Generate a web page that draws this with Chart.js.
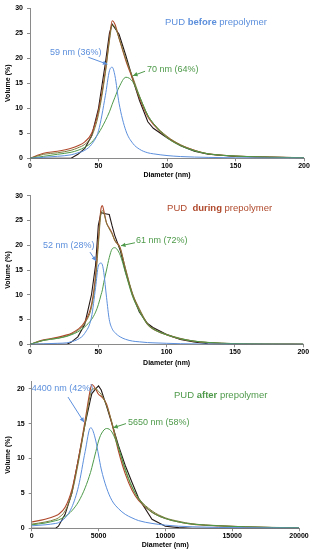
<!DOCTYPE html>
<html><head><meta charset="utf-8">
<script src="https://cdn.jsdelivr.net/npm/chart.js@4"></script>
<style>
html,body{margin:0;padding:0;background:#fff;width:314px;height:550px;overflow:hidden}
canvas{position:absolute;left:0}
</style></head><body>
<canvas id="c1" width="314" height="180" style="top:0px;width:314px;height:180px"></canvas>
<canvas id="c2" width="314" height="188" style="top:180px;width:314px;height:188px"></canvas>
<canvas id="c3" width="314" height="182" style="top:368px;width:314px;height:182px"></canvas>
<script>
// ---------- DATA ----------
// Panel 1: PUD before prepolymer
const x1 = [0,10,20,30,35,40,45,50,55,58,60,62,65,70,75,80,86,90,100,110,120,130,150,175,200];
const p1Black = [0,0,0,0,0.8,2,4.5,10,19,25,26.8,26,24.8,20.5,15.8,11.5,7.3,6,4.1,2.5,1.4,0.8,0.35,0.2,0.1];
const p1Brown = [0,1.0,1.4,2.0,2.5,3.3,5,9.5,17.5,24,27.5,26.8,24,19.5,15.8,12,8.3,6.8,4.2,2.6,1.6,0.9,0.45,0.25,0.12];
const p1Olive = [0,0.8,1.1,1.6,2.1,2.8,4.4,8.8,17,23.5,26.6,26.3,24,19.8,16.2,12.4,8.6,7,4.4,2.7,1.6,0.9,0.45,0.25,0.12];
const p1Blue  = [0,0.2,0.4,0.7,1.1,1.6,2.8,5.5,12.5,17.5,18.2,16.5,11,5.5,3,1.8,1.1,0.9,0.55,0.35,0.25,0.18,0.1,0.05,0.03];
const p1Green = [0,0.4,0.8,1.2,1.6,2.2,3.2,5,7.5,9.3,10.8,12.2,14.2,16.2,15.3,12.3,8.6,7,4.1,2.5,1.5,0.9,0.45,0.22,0.1];
// Panel 2: PUD during prepolymer
const x2 = [0,10,20,27,30,35,40,45,48,50,52,53,54,56,58,60,62,66,70,75,80,86,90,100,110,120,130,150,175,200];
const p2Black = [0,0,0,0,0.4,1.5,4,10,16,24,26.6,26.5,26.4,26.3,26.2,24,22,19,14.5,10,6.5,4.2,3.4,2,1,0.45,0.1,0.03,0.01,0];
const p2Brown = [0,0.9,1.4,1.9,2.2,3,4.5,8,14,21,27.5,28,27,24.5,23.5,22.5,21,19.5,15,10,7,4,3.1,1.9,1.1,0.6,0.35,0.12,0.05,0.02];
const p2Olive = [0,0.8,1.2,1.7,2,2.8,4.2,7.5,13,20,26.5,27,26.5,24.5,23.3,22.3,21,19.3,15.2,10.3,7.2,4.2,3.2,2,1.2,0.65,0.38,0.13,0.05,0.02];
const p2Blue  = [0,0.1,0.2,0.3,0.5,1,2.2,5.5,11.5,15.8,16.4,16,14.5,9.5,5,3.2,2.4,1.5,1,0.65,0.5,0.35,0.3,0.2,0.12,0.08,0.05,0.02,0.01,0];
const p2Green = [0,0.8,1.2,1.6,1.9,2.5,3.5,5,6.5,8,10,11,12.5,15,17.5,19.2,19.5,18,14.3,9.7,6.7,4,3.1,1.9,1.1,0.65,0.38,0.13,0.05,0.02];
// Panel 3: PUD after prepolymer
const x3 = [0,1000,1800,2000,2500,3000,3500,4000,4400,4500,4800,5000,5200,5600,6000,6500,7000,7500,8000,9000,10000,11000,12000,14000,16000,18000,20000];
const p3Black = [0,0,0,0.3,2,5,10,15,18.5,19.3,20,20.4,19.8,17.5,15,11.8,9,6.6,4.3,1.3,0.3,0.1,0,0,0,0,0];
const p3Brown = [0.9,1.3,1.8,2,3,5.5,10,15.5,20,20.6,19.9,19.2,18.9,17.8,15,11,7.8,5.5,4,2.3,1.4,0.9,0.6,0.35,0.2,0.12,0.08];
const p3Olive = [0.6,0.9,1.3,1.5,2.5,5,9.5,15,19.3,19.9,20,19.6,19.2,17.6,15.2,11.5,8.3,5.9,4.3,2.5,1.5,1,0.65,0.38,0.22,0.13,0.08];
const p3Blue  = [0.35,0.5,0.7,0.8,1.5,3,6,11,14.4,14.3,12.5,10.5,8.5,5.8,4,2.8,2,1.5,1.1,0.7,0.45,0.3,0.22,0.12,0.08,0.05,0.03];
const p3Green = [0.5,0.75,1.1,1.2,1.7,2.5,3.8,5.8,8,8.7,11,12.5,13.5,14.3,13.8,11.5,8.5,6,4.2,2.3,1.4,0.9,0.6,0.35,0.2,0.12,0.08];

const yTicks12 = [0,5,10,15,20,25,30];
const yTicks3 = [0,5,10,15,20];
const xTicks12 = [0,50,100,150,200];
const xTicks3 = [0,5000,10000,15000,20000];

// ---------- STYLE ----------
const FONT = "'Liberation Sans', Arial, sans-serif";
const C = {black:'#231815', brown:'#b0492c', olive:'#7d7a3c', blue:'#5c8fdc', green:'#4e9a4a', axis:'#8a8a8a'};

const notesPlugin = {
  id:'notes',
  afterDatasetsDraw(chart, args, opts) {
    const ctx = chart.ctx, xs = chart.scales.x, ys = chart.scales.y;
    ctx.save();
    (opts.items||[]).forEach(it => {
      if (it.arrow) {
        const [ax,ay,bx,by] = it.arrow;
        const x0 = xs.getPixelForValue(ax), y0 = ys.getPixelForValue(ay);
        const x1p = xs.getPixelForValue(bx), y1p = ys.getPixelForValue(by);
        ctx.strokeStyle = it.color; ctx.fillStyle = it.color; ctx.lineWidth = 1;
        ctx.beginPath(); ctx.moveTo(x0,y0); ctx.lineTo(x1p,y1p); ctx.stroke();
        const a = Math.atan2(y1p-y0, x1p-x0), L = 4.5, W = 2.2;
        ctx.beginPath();
        ctx.moveTo(x1p,y1p);
        ctx.lineTo(x1p - L*Math.cos(a) + W*Math.sin(a), y1p - L*Math.sin(a) - W*Math.cos(a));
        ctx.lineTo(x1p - L*Math.cos(a) - W*Math.sin(a), y1p - L*Math.sin(a) + W*Math.cos(a));
        ctx.closePath(); ctx.fill();
      }
      if (it.parts) {
        let x = xs.getPixelForValue(it.x); const y = ys.getPixelForValue(it.y);
        ctx.textBaseline = 'middle'; ctx.textAlign = 'left'; ctx.fillStyle = it.color;
        it.parts.forEach(p => {
          ctx.font = (p[1] ? 'bold ' : '') + it.size + 'px ' + FONT;
          ctx.fillText(p[0], x, y);
          x += ctx.measureText(p[0]).width;
        });
      }
    });
    ctx.restore();
  }
};

function makeChart(id, cfg) {
  const series = [
    {y:cfg.blue, c:C.blue, w:1},
    {y:cfg.green, c:C.green, w:1},
    {y:cfg.olive, c:C.olive, w:1},
    {y:cfg.brown, c:C.brown, w:1.1},
    {y:cfg.black, c:C.black, w:1.1, straight:true}
  ];
  const tickFont = {family:FONT, size:7, weight:'bold'};
  return new Chart(document.getElementById(id), {
    type:'line',
    data:{datasets: series.map(s => ({
      data: cfg.x.map((xv,i) => ({x:xv, y:s.y[i]})),
      borderColor:s.c, borderWidth:s.w, pointRadius:0, fill:false,
      cubicInterpolationMode: s.straight ? 'default' : 'monotone', tension: 0
    }))},
    options:{
      responsive:false, animation:false, events:[],
      layout:{padding:{top:cfg.top, right:cfg.right, left:0, bottom:0}},
      plugins:{legend:{display:false}, tooltip:{enabled:false}, notes:{items:cfg.notes}},
      scales:{
        x:{type:'linear', min:0, max:cfg.xTicks[cfg.xTicks.length-1],
          afterBuildTicks(s){ s.ticks = cfg.xTicks.map(v=>({value:v})); },
          ticks:{font:tickFont, color:'#000', padding:1, maxRotation:0, autoSkip:false, callback:v=>String(v)},
          grid:{display:true, drawOnChartArea:false, drawTicks:true, tickLength:3, color:C.axis},
          border:{display:true, color:C.axis, width:1},
          title:{display:true, text:'Diameter (nm)', font:{family:FONT, size:7, weight:'bold'}, color:'#000', padding:{top:0,bottom:cfg.xtPad}},
          afterFit(s){ s.height = cfg.xh; }
        },
        y:{type:'linear', min:0, max:cfg.ymax,
          afterBuildTicks(s){ s.ticks = cfg.yTicks.map(v=>({value:v})); },
          ticks:{font:tickFont, color:'#000', padding:4, autoSkip:false, callback:v=>String(v)},
          grid:{display:true, drawOnChartArea:false, drawTicks:true, tickLength:3, color:C.axis},
          border:{display:true, color:C.axis, width:1},
          title:{display:true, text:'Volume (%)', font:{family:FONT, size:7, weight:'bold'}, color:'#000', padding:{top:4,bottom:0}},
          afterFit(s){ s.width = cfg.yw; }
        }
      }
    },
    plugins:[notesPlugin]
  });
}

makeChart('c1', {
  x:x1, black:p1Black, brown:p1Brown, olive:p1Olive, blue:p1Blue, green:p1Green,
  xTicks:xTicks12, yTicks:yTicks12, ymax:30,
  top:7.3, right:10, xh:21.7, yw:30, xtPad:1,
  notes:[
    {parts:[['PUD ',0],['before',1],[' prepolymer',0]], x:98.5, y:27.1, color:C.blue, size:9.5},
    {parts:[['59 nm (36%)',0]], x:14.6, y:21.1, color:C.blue, size:9, arrow:[42.5,20.2,56.5,18.8]},
    {parts:[['70 nm (64%)',0]], x:85.4, y:17.7, color:C.green, size:9, arrow:[84,17.4,75.2,16.5]}
  ]
});
makeChart('c2', {
  x:x2, black:p2Black, brown:p2Brown, olive:p2Olive, blue:p2Blue, green:p2Green,
  xTicks:xTicks12, yTicks:yTicks12, ymax:30,
  top:15.7, right:10.7, xh:23.7, yw:30, xtPad:1,
  notes:[
    {parts:[['PUD  ',0],['during',1],[' prepolymer',0]], x:100.3, y:27.5, color:C.brown, size:9.5},
    {parts:[['52 nm (28%)',0]], x:9.5, y:19.9, color:C.blue, size:9, arrow:[43.9,18.6,48.3,16.8]},
    {parts:[['61 nm (72%)',0]], x:77.6, y:20.9, color:C.green, size:9, arrow:[76.8,20.5,66.6,19.9]}
  ]
});
makeChart('c3', {
  x:x3, black:p3Black, brown:p3Brown, olive:p3Olive, blue:p3Blue, green:p3Green,
  xTicks:xTicks3, yTicks:yTicks3, ymax:21,
  top:13.7, right:15, xh:21.7, yw:31.7, xtPad:0.3,
  notes:[
    {parts:[['PUD ',0],['after',1],[' prepolymer',0]], x:10647, y:19.0, color:C.green, size:9.5},
    {parts:[['4400 nm (42%)',0]], x:0, y:20.04, color:C.blue, size:9, arrow:[2716,18.8,3913,15.2]},
    {parts:[['5650 nm (58%)',0]], x:7205, y:15.2, color:C.green, size:9, arrow:[7055,15.0,6105,14.4]}
  ]
});
</script>
</body></html>
